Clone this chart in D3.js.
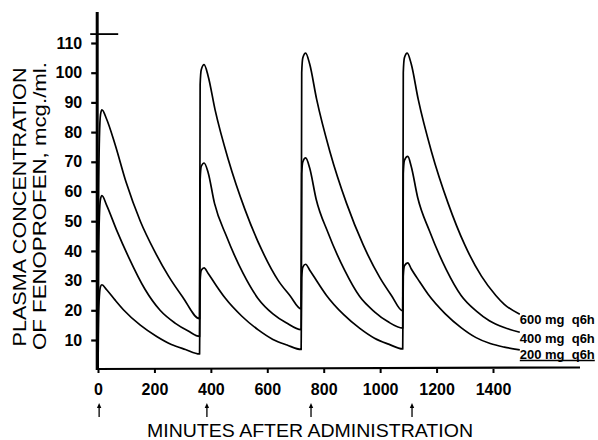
<!DOCTYPE html>
<html><head><meta charset="utf-8">
<script src="https://cdn.jsdelivr.net/npm/d3@7/dist/d3.min.js"></script>
<style>body{margin:0;background:#fff}svg{display:block}</style>
</head><body>
<script>
// ---- data ----
const xTicks = [0, 200, 400, 600, 800, 1000, 1200, 1400];
const yTicks = [10, 20, 30, 40, 50, 60, 70, 80, 90, 100, 110];
const seriesLabels = ["600 mg  q6h", "400 mg  q6h", "200 mg  q6h"];
const arrowMinutes = [4, 386, 755, 1113];   // dose arrows under the axis
const topMarkValue = 113;                   // short horizontal mark at top of y axis

// minutes after administration, plasma concentration (mcg./ml.)
const conc600 = [
  [0,0],[2,55],[5,78],[9,86],[14,87.5],[30,84.5],[60,76],[100,63],[150,50],[200,40],[250,31.5],[300,24.5],[360,17.2],
  [362,96],[366,101],[376,102.7],[390,99],[415,87.5],[462,70.7],[521,53.9],[580,40.4],[639,30],[680,25],[720,20.5],
  [722,100],[726,105],[736,106.6],[750,103],[775,91],[822,73.4],[881,56],[940,42],[999,31],[1040,25],[1080,19.8],
  [1082,100],[1086,105],[1096,106.6],[1110,103],[1135,91],[1182,73.4],[1241,56],[1300,42],[1359,31.5],[1410,25],[1440,22],[1495,18.7]
];
const conc400 = [
  [0,0],[2,38],[5,52],[9,57.5],[14,58.6],[30,55.5],[66,47],[108,38],[167,27],[220,20],[273,15.7],[320,13],[360,11.2],
  [362,64],[366,68.5],[376,69.6],[390,66.5],[413,56],[455,45],[514,32.5],[567,24],[620,18.8],[667,15.8],[720,13.5],
  [722,66],[726,70],[736,71.3],[750,68],[773,57.5],[815,46.2],[874,33.5],[927,24.7],[980,19.5],[1027,16.2],[1080,14],
  [1082,66],[1086,70.5],[1098,71.8],[1110,68.5],[1133,58],[1175,46.7],[1234,33.8],[1287,25],[1340,19.8],[1387,16.5],[1440,14.2],[1495,12.6]
];
const conc200 = [
  [0,0],[2,18],[5,25],[9,28],[14,28.6],[30,27],[60,23.5],[90,20.2],[150,15],[208,11.2],[260,8.5],[310,6.8],[360,5.3],
  [362,30],[366,33.5],[376,34.3],[390,32.5],[420,28.2],[450,24.2],[510,18],[568,13.4],[620,10.2],[670,8.3],[720,6.8],
  [722,31],[726,34.5],[736,35.5],[750,33.6],[780,29.2],[810,25],[870,18.6],[928,13.9],[980,10.6],[1030,8.6],[1080,7],
  [1082,31.5],[1086,35],[1098,36],[1110,34],[1140,29.6],[1170,25.4],[1230,18.9],[1288,14.1],[1340,10.8],[1390,8.8],[1440,7.6],[1495,6.7]
];
const seriesData = [conc600, conc400, conc200];

// ---- layout ----
const W = 598, H = 440;
const svg = d3.select("body").append("svg").attr("width", W).attr("height", H);
const x = d3.scaleLinear().domain([0, 1400]).range([98, 493]);
const y = d3.scaleLinear().domain([0, 110]).range([369.7, 43]);
const axisX0 = 97.2, axisY0 = 369;
const font = "'Liberation Sans', Arial, Helvetica, sans-serif";

// curves
const line = d3.line().x(d => x(d[0])).y(d => y(d[1])).curve(d3.curveMonotoneX);
svg.append("g").selectAll("path").data(seriesData).join("path")
  .attr("d", line).attr("fill", "none").attr("stroke", "#000")
  .attr("stroke-width", 1.7).attr("stroke-linejoin", "round");

// y axis
const yAxis = d3.axisLeft(y).tickValues(yTicks).tickSize(6).tickPadding(9).tickFormat(d3.format("d"));
const gy = svg.append("g").attr("transform", `translate(${axisX0},0)`).call(yAxis);
gy.select(".domain").remove();
gy.append("line").attr("x1", 0).attr("x2", 0).attr("y1", 12).attr("y2", axisY0 + 1)
  .attr("stroke", "#000").attr("stroke-width", 3);
gy.selectAll(".tick line").attr("stroke", "#000").attr("stroke-width", 2.2);
gy.selectAll(".tick text").attr("font-family", font).attr("font-size", 16).attr("font-weight", "bold")
  .attr("fill", "#000");

// top mark
svg.append("line").attr("x1", axisX0 - 7).attr("x2", axisX0 + 21)
  .attr("y1", y(topMarkValue)).attr("y2", y(topMarkValue)).attr("stroke", "#000").attr("stroke-width", 1.8);

// x axis
const xAxis = d3.axisBottom(x).tickValues(xTicks).tickSize(4).tickPadding(11).tickFormat(d3.format("d"));
const gx = svg.append("g").attr("transform", `translate(0,${axisY0})`).call(xAxis);
gx.select(".domain").remove();
gx.append("line").attr("x1", axisX0 - 1).attr("x2", 580).attr("y1", 0).attr("y2", -1.5)
  .attr("stroke", "#000").attr("stroke-width", 2.2);
gx.selectAll(".tick line").attr("stroke", "#000").attr("stroke-width", 2);
gx.selectAll(".tick text").attr("font-family", font).attr("font-size", 16).attr("font-weight", "bold")
  .attr("fill", "#000");

// dose arrows
const ga = svg.append("g").selectAll("g").data(arrowMinutes).join("g")
  .attr("transform", d => `translate(${x(d)},0)`);
ga.append("line").attr("x1", 0).attr("x2", 0).attr("y1", 406).attr("y2", 417)
  .attr("stroke", "#000").attr("stroke-width", 1.3);
ga.append("path").attr("d", "M-2.2,408 L0,403 L2.2,408 Z").attr("fill", "#000");

// series labels
const labelY = [324, 343, 359];
svg.append("g").selectAll("text").data(seriesLabels).join("text")
  .attr("x", x(1495)).attr("y", (d, i) => labelY[i])
  .attr("font-family", font).attr("font-size", 12.5).attr("font-weight", "bold")
  .attr("textLength", 75).attr("lengthAdjust", "spacingAndGlyphs")
  .style("white-space", "pre").text(d => d);
svg.append("line").attr("x1", x(1495)).attr("x2", x(1495) + 75).attr("y1", 360.5).attr("y2", 360.5)
  .attr("stroke", "#000").attr("stroke-width", 1.3);

// axis titles
svg.append("text").attr("x", 310).attr("y", 437).attr("text-anchor", "middle")
  .attr("font-family", font).attr("font-size", 18.5).attr("textLength", 326).attr("lengthAdjust", "spacingAndGlyphs")
  .text("MINUTES AFTER ADMINISTRATION");
svg.append("text").attr("transform", "translate(26,207) rotate(-90)").attr("text-anchor", "middle")
  .attr("font-family", font).attr("font-size", 17.5).attr("textLength", 279).attr("lengthAdjust", "spacingAndGlyphs")
  .text("PLASMA CONCENTRATION");
svg.append("text").attr("transform", "translate(46,206) rotate(-90)").attr("text-anchor", "middle")
  .attr("font-family", font).attr("font-size", 17.5).attr("textLength", 288).attr("lengthAdjust", "spacingAndGlyphs")
  .text("OF FENOPROFEN, mcg./ml.");
</script>
</body></html>
